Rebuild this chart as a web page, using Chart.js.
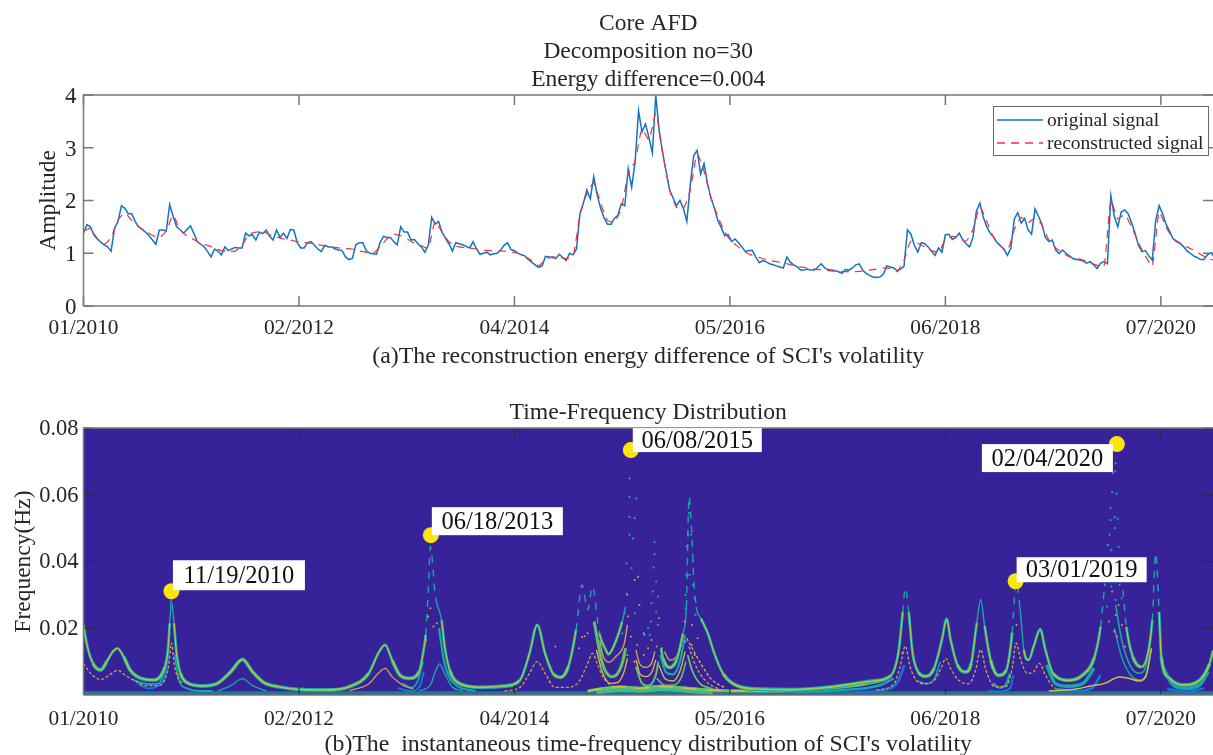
<!DOCTYPE html>
<html><head><meta charset="utf-8">
<script src="https://cdn.jsdelivr.net/npm/chart.js@4/dist/chart.umd.min.js"></script>
<style>
html,body{margin:0;padding:0;background:#fff;width:1213px;height:755px;overflow:hidden}
canvas{position:absolute;left:0;display:block;filter:blur(.35px)}
#a{top:0}#b{top:385px}
</style></head><body>
<canvas id="a" width="1213" height="375"></canvas>
<canvas id="b" width="1213" height="370"></canvas>
<script>
const xTickLabels=['01/2010','02/2012','04/2014','05/2016','06/2018','07/2020'];
const xTickValues=[0,500,1000,1500,2000,2500];
const ampTicks=[0,1,2,3,4];
const freqTicks=[0.02,0.04,0.06,0.08];
const sampleStep=8;
const originalSignal=[1.38,1.54,1.5,1.35,1.27,1.21,1.16,1.12,1.04,1.47,1.6,1.9,1.85,1.75,1.75,1.6,1.5,1.45,1.4,1.33,1.25,1.17,1.44,1.44,1.42,1.92,1.7,1.5,1.45,1.38,1.45,1.52,1.38,1.22,1.17,1.12,1.03,.93,1.08,1.04,.97,1.12,1.05,1.08,1.11,1.1,1.1,1.38,1.33,1.35,1.25,1.4,1.37,1.44,1.32,1.25,1.44,1.3,1.38,1.28,1.45,1.44,1.2,1.1,1.1,1.2,1.22,1.15,1.08,1.03,1.15,1.12,1.12,1.08,1.06,1.05,.93,.88,
.9,1.16,1.2,1.2,1.05,1,.99,.98,1.2,1.32,1.3,1.3,1.22,1.16,1.5,1.4,1.4,1.25,1.26,1.18,1.12,1.02,1.15,1.68,1.55,1.6,1.4,1.28,1.18,1.04,1.2,1.18,1.16,1.13,1.1,1.22,1.08,.98,1,1.02,.97,.99,1,1.06,1.15,1.2,1.07,1.05,1,.97,.95,.88,.83,.78,.73,.76,.94,.93,.92,.9,.98,.92,.86,
1,.97,1.08,1.75,1.95,2.2,2.03,2.45,2.1,1.85,1.67,1.55,1.55,1.66,1.72,1.94,1.9,2.6,2.25,2.73,3.7,3.3,3.45,3.2,2.9,4,3.3,2.9,2.55,2.2,2.05,1.9,2,1.85,1.6,2.3,2.85,2.95,2.5,2.7,2.32,2.05,1.85,1.62,1.48,1.33,1.35,1.22,1.27,1.2,1.12,1.03,1.05,1.05,.93,.82,
.86,.84,.8,.78,.76,.74,.72,.93,.83,.78,.74,.68,.68,.7,.68,.68,.74,.8,.72,.69,.68,.67,.65,.62,.69,.68,.72,.78,.8,.68,.62,.58,.55,.54,.55,.6,.76,.74,.72,.67,.7,.75,1.44,1.36,1.15,1.02,1.2,1.18,1.12,1.03,.96,1.1,1.02,1.35,1.36,1.26,1.3,1.38,1.26,1.18,1.12,1.3,1.8,1.95,1.68,1.5,1.38,
1.3,1.2,1.14,1.07,.96,1.1,1.65,1.77,1.57,1.66,1.44,1.36,1.84,1.7,1.55,1.3,1.22,1.25,1.06,.99,1.06,1,.95,.9,.88,.87,.85,.81,.84,.78,.71,.81,.84,.8,2.09,1.7,1.5,1.78,1.82,1.75,1.58,1.38,1.15,1.03,1.05,.95,.87,1.62,1.9,1.75,1.55,1.42,1.28,1.22,1.19,1.13,1.05,1,.95,.92,.88,.88,.97,1.01,.93];
const reconStep=16;
const reconstructedSignal=[1.42,1.47,1.28,1.17,1.3,1.63,1.76,1.62,1.5,1.42,1.34,1.3,1.42,1.72,1.44,1.33,1.26,1.18,1.15,1.1,1.05,1.03,1.04,1.15,1.36,1.4,1.41,1.35,1.31,1.27,1.25,1.22,1.2,1.19,1.16,1.14,1.12,1.1,1.09,1.08,
1.04,1.02,1,1.12,1.27,1.36,1.33,1.27,1.19,1.14,1.1,1.6,1.4,1.22,1.14,1.11,1.1,1.08,1.06,1.05,1.04,1.04,1.03,1,.94,.86,.76,.88,.93,.93,.9,
.95,1.72,2.12,2.33,1.95,1.62,1.6,1.85,2.5,2.75,3.35,3.15,3.65,2.9,2.2,1.87,1.85,2.2,2.88,2.55,2.05,1.7,1.4,1.22,1.12,1.02,.96,.92,
.88,.85,.83,.8,.77,.74,.72,.7,.69,.67,.66,.65,.65,.65,.66,.68,.7,.72,.71,.65,.87,1.23,1.19,1.12,1.05,1.02,1.25,1.32,1.28,1.23,1.45,1.88,1.6,
1.3,1.14,1.05,1.45,1.68,1.58,1.67,1.53,1.25,1.1,1.01,.93,.9,.87,.82,.77,.75,2,1.65,1.73,1.5,1.2,.95,.76,1.78,1.5,1.28,1.2,1.12,1.06,.98,.9,.87];

const ridgeMain=[[0,.021],[9,.0145],[22,.0095],[40,.0075],[54,.01],[68,.013],[79,.014],[93,.0115],[108,.0075],[125,.0055],[145,.0046],[165,.0045],[178,.0055],[189,.0085],[196,.0135],[200,.0215],[203,.0275],[204,.0315],[206,.0275],[210,.0215],[216,.0125],[225,.0065],[239,.0038],[275,.0027],[311,.0035],[342,.007],[369,.0107],[392,.007],[419,.0037],[455,.0024],[509,.0016],[563,.0015],[617,.0025],[662,.0065],[684,.0125],[700,.015],[716,.0105],[734,.006],[756,.005],[779,.007],[788,.0125],[794,.018],[800,.0313],[805,.0445],[811,.038],[815,.031],[820,.0275],[831,.0224],[838,.0146],[850,.0074],[873,.0034],[923,.0023],[977,.0027],[1013,.0045],[1035,.0125],[1053,.021],[1071,.0125],[1089,.0065],[1107,.0053],[1125,.0085],[1143,.0195],[1157,.033],[1170,.0255],[1181,.0325],[1197,.0185],[1212,.0135],[1218,.0122],[1230,.0145],[1250,.022],[1258,.0265],[1264,null],[1340,.014],[1345,.0109],[1360,.0082],[1376,.0104],[1391,.0184],[1399,.0264],[1405,.0595],[1411,.05],[1416,.035],[1422,.0264],[1433,.0229],[1449,.0184],[1464,.0124],[1484,.0064],[1507,.0034],[1561,.0018],[1651,.0016],[1742,.0025],[1833,.0042],[1874,.0059],[1892,.0136],[1901,.0248],[1907,.032],[1915,.0248],[1924,.0125],[1937,.0069],[1955,.0056],[1974,.008],[1992,.0166],[2003,.0228],[2012,.0166],[2028,.009],[2046,.0069],[2060,.0095],[2073,.0217],[2082,.0287],[2091,.0207],[2105,.0105],[2123,.0059],[2141,.0074],[2155,.0187],[2164,.034],[2173,.0263],[2182,.0136],[2193,.0105],[2205,.0146],[2220,.0197],[2232,.0136],[2250,.0064],[2288,.0044],[2319,.006],[2346,.0114],[2360,.0204],[2370,.0334],[2390,null],[2412,.0314],[2420,.0204],[2435,.0114],[2455,.0084],[2470,.0124],[2480,.0224],[2488,.0424],[2496,.0249],[2501,.0114],[2520,.005],[2551,.003],[2590,.0044],[2613,.0094],[2621,.0134]];
const ridgeOrange1=[[0,.0095],[12,.0072],[28,.0052],[40,.0046],[58,.0058],[79,.0074],[98,.0058],[117,.0044],[145,.0028],[175,.0028],[190,.005],[198,.009],[204,.0156],[211,.009],[218,.0055],[230,.0034]];
const ridgeOrange2=[[617,.0013],[662,.0034],[684,.0065],[700,.008],[716,.0055],[742,.0029],[765,.0018]];
const ridgeOrange3=[[977,.0012],[1013,.0023],[1035,.0065],[1053,.01],[1071,.0065],[1094,.0023],[1125,.0023],[1150,.004],[1170,.0095],[1181,.0125],[1192,.0095],[1205,.0055],[1225,.0028],[1245,.0022]];
const ridgeOrange4=[[1840,.0015],[1880,.0032],[1895,.0085],[1907,.0147],[1918,.0085],[1932,.0045],[1951,.0034],[1975,.0045],[1990,.008],[2001,.011],[2012,.008],[2030,.0045],[2055,.0034],[2070,.0075],[2082,.0136],[2094,.0075],[2114,.0025],[2140,.0025],[2155,.008],[2164,.0156],[2175,.0105],[2190,.0065],[2204,.0068],[2218,.0095],[2232,.006],[2250,.0025],[2270,.0014]];
const ridgeOrange5=[[2240,.0012],[2304,.0018],[2340,.0028],[2368,.0034],[2404,.0054],[2425,.005],[2450,.0042],[2465,.0055],[2478,.014]];
const nestOrange1=[[1198,.0165],[1205,.012],[1220,.0098],[1235,.0115],[1255,.0155],[1262,.021]];
const nestOrange2=[[1282,.0135],[1290,.0095],[1303,.0083],[1318,.0095],[1326,.013]];
const nestOrange3=[[1348,.013],[1360,.0105],[1378,.012],[1390,.018]];
const nestOrange4=[[1405,.0145],[1415,.0105],[1430,.0065],[1450,.0035],[1480,.0015]];
const nestYellow1=[[1190,.0135],[1205,.0065],[1222,.0035],[1240,.0038],[1255,.0072],[1262,.011]];
const nestYellow2=[[1282,.0105],[1292,.0062],[1305,.0055],[1320,.0072],[1328,.0105]];
const nestYellow3=[[1335,.009],[1350,.0048],[1368,.0042],[1385,.0075],[1396,.013]];
const nestYellow4=[[1400,.017],[1432,.0095],[1455,.005],[1490,.002]];
const nestGreen1=[[1185,.022],[1200,.0115],[1210,.0075],[1225,.0055],[1238,.0062],[1250,.0095],[1258,.014]];
const nestGreen2=[[1282,.0085],[1296,.0035],[1310,.0028],[1328,.006],[1334,.01]];
const nestGreen3=[[1338,.012],[1352,.0068],[1368,.0062],[1385,.0105],[1396,.018]];
const nestGreen4=[[1330,.005],[1350,.0029],[1370,.003],[1388,.0055],[1398,.01]];
const nestGreen5=[[1402,.012],[1412,.0075],[1430,.0035],[1460,.0018]];
const floorGlow=[[1190,.0012],[1245,.0018],[1290,.0016],[1340,.002],[1400,.0016],[1460,.001]];
const floorBright=[[1170,.0012],[1245,.0025],[1290,.002],[1340,.0026],[1400,.002],[1450,.0015],[1540,.0012],[1600,.0012],[1700,.0018],[1800,.003],[1860,.0045]];
const floorTeal=[[1650,.0009],[1750,.0014],[1850,.003],[1880,.005]];
const floorBlue=[[1790,.0008],[1860,.0016],[1890,.004],[1905,.009]];
const floorStrip=[[0,.0007],[2621,.0007]];
const tealLow1=[[311,.0012],[342,.0028],[369,.0049],[392,.0028],[425,.0012]];
const tealLow2=[[779,.0012],[805,.003],[815,.0065],[826,.0093],[838,.0065],[855,.0025],[880,.0012]];
const tealBranch1=[[115,.0045],[150,.0033],[175,.0035],[188,.007]];
const tealBranch2=[[212,.012],[222,.0042],[240,.002],[270,.0012],[300,.0012]];
const tealBranch3=[[740,.0035],[760,.0022],[775,.004],[788,.01]];
const tealBranch4=[[825,.02],[836,.0105],[848,.0055],[870,.0025],[910,.0012]];
const tealBranch5=[[2235,.009],[2255,.0035],[2285,.0026],[2320,.0035],[2345,.008]];
const tealBranch6=[[2395,.027],[2410,.016],[2430,.0085],[2450,.0065],[2465,.0085],[2475,.016]];
const tealBranch7=[[2392,.02],[2410,.011],[2430,.006],[2452,.0045],[2468,.007],[2478,.014]];
const tealBranch8=[[2505,.0085],[2525,.0035],[2555,.002],[2590,.003],[2610,.007]];
const tealBranch9=[[2110,.0035],[2125,.0022],[2140,.003],[2150,.0065]];
const tealBranch10=[[1937,.0042],[1955,.0034],[1975,.005],[1988,.01]];
const blueLow1=[[125,.0035],[150,.002],[175,.003],[190,.006],[197,.012]];
const blueLow2=[[730,.002],[760,.0012],[780,.0025],[790,.007]];
const blueLow3=[[2260,.0018],[2300,.0012],[2340,.002],[2360,.006]];
const blueLow4=[[2515,.0018],[2560,.001],[2600,.002]];
const blueLow5=[[2100,.0012],[2125,.001],[2150,.002],[2158,.006]];
const dotsTeal=[[1267,.0649],[1267,.0594],[1283,.0589],[1267,.0534],[1279,.053],[1267,.048],[1275,.0469],[1260,.0394],[1272,.038],[1262,.03],[1256,.0245],[1280,.0245],[1250,.0184],[1325,.0458],[1325,.0422],[1323,.0382],[1329,.034],[1321,.031],[1333,.0295],[1318,.0275],[1329,.025],[1317,.022],[1333,.021],[1310,.02],[1302,.018],[1314,.018],[1405,.0545],[1403,.048],[1410,.048],[1399,.0445],[1414,.04],[1399,.036],[1406,.036],[1414,.033],[1397,.03],[1418,.029],[1397,.026],[1420,.024],[2395,.0695],[2394,.0671],[2389,.0665],[2387,.0608],[2397,.0603],[2383,.056],[2393,.0533],[2400,.0528],[2383,.0524],[2381,.048],[2393,.05],[2377,.0449],[2402,.0444],[2385,.0434],[2370,.033],[2404,.033],[2385,.0325],[2395,.0285],[2375,.0265],[2409,.029]];
const dotsOrange=[[1261,.0303],[1264,.0235],[1279,.0345],[1287,.0354],[1270,.0175],[1290,.027],[1300,.0185],[1285,.015],[1262,.012],[1278,.01],[1335,.023],[1318,.0165],[1342,.014],[1310,.014],[1330,.0145],[1300,.012],[1395,.022],[1412,.021],[1425,.017],[1397,.016],[1411,.015],[1418,.012],[1157,.0174],[1163,.0176],[1170,.0185],[1150,.014],[805,.026],[800,.0235],[812,.0205],[820,.0215],[795,.0165],[2387,.031],[2395,.024],[2402,.027],[2380,.022],[2392,.019],[2410,.021],[2398,.0175],[2417,.0145],[1095,.0145],[2165,.021],[1900,.0125]];
const eventLabels=['11/19/2010','06/18/2013','06/08/2015','03/01/2019','02/04/2020'];
const eventX=[204,806,1270,2163,2398];
const eventY=[.0311,.0479,.0734,.0341,.0752];

const SERIF='"Liberation Serif","Times New Roman",serif';
const INK='#262626';
// label box geometry relative to each marker: dx, dy, width, height
const labelBoxes=[[1.5,-31,132,30],[1,-28,131,28],[2,-22,129,24],[1,-24,130,25],[-135,0,131,28]];
const toPts=a=>a.map(p=>({x:p[0],y:p[1]}));
const stepPts=(v,s)=>v.map((y,i)=>({x:i*s,y}));

const frame={id:'frame',
 beforeDatasetsDraw(c,_,o){ if(!o.bg)return; const a=c.chartArea,x=c.ctx;x.save();x.fillStyle=o.bg;x.fillRect(a.left,a.top,a.width,a.height);x.restore();},
 afterDatasetsDraw(c,_,o){ const a=c.chartArea,x=c.ctx,L=o.len;x.save();x.strokeStyle=o.tick;x.lineWidth=o.w;x.beginPath();
  xTickValues.forEach(v=>{const p=c.scales.x.getPixelForValue(v);x.moveTo(p,a.bottom);x.lineTo(p,a.bottom-L);x.moveTo(p,a.top);x.lineTo(p,a.top+L);});
  o.yt.forEach(v=>{const p=c.scales.y.getPixelForValue(v);x.moveTo(a.left,p);x.lineTo(a.left+L,p);x.moveTo(a.right-L,p);x.lineTo(a.right,p);});
  x.stroke();
  x.strokeStyle='#777';x.lineWidth=1.5;x.beginPath();x.moveTo(a.left,a.bottom);x.lineTo(a.left,a.top);x.lineTo(a.right,a.top);x.stroke();
  x.beginPath();x.moveTo(a.left,a.bottom);x.lineTo(a.right,a.bottom);x.stroke();
  x.restore();}};

const legendBox={id:'legendBox',afterDatasetsDraw(c){const x=c.ctx;x.save();
 const L=993,T=106,W=215,H=49;
 x.fillStyle='#fff';x.fillRect(L,T,W,H);x.strokeStyle='#6a6a6a';x.lineWidth=1;x.strokeRect(L+.5,T+.5,W,H);
 x.font='19.5px '+SERIF;x.textBaseline='middle';x.textAlign='left';
 c.data.datasets.forEach((d,i)=>{const y=T+14+i*23;x.strokeStyle=d.borderColor;x.lineWidth=1.3;x.setLineDash(d.borderDash||[]);
  x.beginPath();x.moveTo(L+4,y);x.lineTo(L+50,y);x.stroke();x.setLineDash([]);x.fillStyle=INK;x.fillText(d.label,L+54,y+1);});
 x.restore();}};

const eventTags={id:'eventTags',afterDatasetsDraw(c){const m=c.getDatasetMeta(c.data.datasets.length-1),x=c.ctx;x.save();
 x.font='24.5px '+SERIF;x.textAlign='center';x.textBaseline='middle';
 eventLabels.forEach((t,i)=>{const p=m.data[i],b=labelBoxes[i];const l=p.x+b[0],u=p.y+b[1];
  x.fillStyle='#fff';x.fillRect(l,u,b[2],b[3]);x.fillStyle='#111';x.fillText(t,l+b[2]/2,u+b[3]/2+1);});
 x.restore();}};

function axes(yMin,yMax,yTicks,yFmt,yTitle,yPad,bottomH,subtitle,subPad){return{
 x:{type:'linear',min:0,max:2621,grid:{display:false},border:{display:false},
  afterBuildTicks:s=>{s.ticks=xTickValues.map(v=>({value:v}));},
  afterFit:s=>{s.height=bottomH;},
  ticks:{autoSkip:false,maxRotation:0,padding:subPad.tick,color:INK,font:{family:SERIF,size:21.4},callback:v=>xTickLabels[xTickValues.indexOf(v)]},
  title:{display:true,text:subtitle,color:INK,font:{family:SERIF,size:23.8,lineHeight:1},padding:{top:0,bottom:subPad.bottom}}},
 y:{type:'linear',min:yMin,max:yMax,grid:{display:false,tickLength:0},border:{display:false},
  afterBuildTicks:s=>{s.ticks=yTicks.map(v=>({value:v}));},
  afterFit:s=>{s.width=83.5;},
  ticks:{padding:yPad.tick,labelOffset:yPad.shift,color:INK,font:{family:SERIF,size:yPad.size},callback:yFmt},
  title:{display:true,text:yTitle,color:INK,font:{family:SERIF,size:23.5},padding:{top:yPad.title,bottom:0}}}
};}

new Chart(document.getElementById('a'),{type:'line',
 data:{datasets:[
  {label:'original signal',data:stepPts(originalSignal,sampleStep),borderColor:'#0f75c3',borderWidth:1.5,pointRadius:0,tension:0,order:2},
  {label:'reconstructed signal',data:stepPts(reconstructedSignal,reconStep),borderColor:'#f4323c',borderWidth:1.2,borderDash:[8,6],pointRadius:0,tension:.2,order:1}
 ]},
 options:{responsive:false,animation:false,devicePixelRatio:1,layout:{padding:0,autoPadding:false},
  plugins:{legend:{display:false},tooltip:{enabled:false},
   title:{display:true,fullSize:false,text:['Core AFD','Decomposition no=30','Energy difference=0.004'],color:INK,font:{family:SERIF,size:23.5,weight:'normal',lineHeight:1.19},padding:{top:10,bottom:1}},
   frame:{len:10,tick:'#777',w:1.5,yt:ampTicks}},
  scales:axes(0,4,ampTicks,v=>String(v),'Amplitude',{tick:7,title:35,size:23,shift:2},69,"(a)The reconstruction energy difference of SCI's volatility",{tick:2,bottom:6})},
 plugins:[frame,legendBox]});

const C={teal:'#18a7a8',green:'#5fc26a',lime:'#a9cc3f',yel:'#d8bf3e',org:'#c9a64f',blue:'#1277d6',dk:'#127f93'};
const thick=y=>y<.012?3.8:(y<.025?2.8:1.4);
const core=y=>y<.012?1.7:(y<.025?1.2:0.01);
const segW=f=>({borderWidth:ctx=>f(Math.max(ctx.p0.parsed.y,ctx.p1.parsed.y)),borderDash:ctx=>Math.max(ctx.p0.parsed.y,ctx.p1.parsed.y)>.03?[7,7]:undefined});
const line=(a,color,w,extra)=>Object.assign({data:toPts(a),borderColor:color,borderWidth:w,pointRadius:0,cubicInterpolationMode:'monotone',spanGaps:false},extra||{});
const thin=[3,2];
const layers=[
 line(floorStrip,C.dk,3),
 line(floorGlow,'#43b98a',6),
 line(floorBright,C.green,3),
 line(floorBright,C.yel,1.4,{borderDash:[14,10]}),
 line(floorTeal,C.teal,2.4),
 line(floorBlue,C.blue,2.4),
 line(blueLow1,C.blue,2),line(blueLow2,C.blue,2),line(blueLow3,C.blue,2.4),line(blueLow4,C.blue,2.4),line(blueLow5,C.blue,2),
 line(tealLow1,C.teal,1.3),line(tealLow2,C.teal,1.4),
 line(tealBranch1,C.teal,1.8),line(tealBranch2,C.teal,1.8),line(tealBranch3,C.teal,1.8),line(tealBranch4,C.teal,2.2),
 line(tealBranch5,C.teal,3.4),line(tealBranch6,C.teal,1.6),line(tealBranch7,C.teal,1.4),line(tealBranch8,C.teal,3.4),line(tealBranch9,C.teal,2.4),line(tealBranch10,C.teal,1.6),
 line(ridgeOrange1,C.org,1.3,{borderDash:thin}),line(ridgeOrange2,C.org,1.3),line(ridgeOrange3,C.org,1.3,{borderDash:thin}),line(ridgeOrange4,C.org,1.3,{borderDash:thin}),line(ridgeOrange5,C.yel,1.5),
 line(nestGreen1,C.green,3),line(nestGreen2,C.green,2),line(nestGreen3,C.teal,2.2),line(nestGreen4,C.green,1.6),line(nestGreen5,C.green,1.8),
 line(nestOrange1,C.org,1.4),line(nestOrange2,C.org,1.4),line(nestOrange3,C.org,1.4),line(nestOrange4,C.org,1.3,{borderDash:thin}),
 line(nestYellow1,C.yel,1.3),line(nestYellow2,C.yel,1.3),line(nestYellow3,C.yel,1.3),line(nestYellow4,C.yel,1.3,{borderDash:thin}),
 line(ridgeMain,C.teal,3,{segment:segW(thick)}),
 line(ridgeMain,C.lime,1.5,{segment:segW(core)}),
 {type:'scatter',data:toPts(dotsOrange),pointRadius:1,pointBackgroundColor:C.org,pointBorderWidth:0,showLine:false},
 {type:'scatter',data:toPts(dotsTeal),pointRadius:1.1,pointBackgroundColor:C.teal,pointBorderWidth:0,showLine:false},
 {type:'scatter',data:eventX.map((x,i)=>({x,y:eventY[i]})),pointRadius:8,pointBackgroundColor:'#fde50a',pointBorderWidth:0,showLine:false,clip:false}
];
layers.forEach((d,i)=>{d.order=layers.length-i;});

new Chart(document.getElementById('b'),{type:'line',
 data:{datasets:layers},
 options:{responsive:false,animation:false,devicePixelRatio:1,layout:{padding:0,autoPadding:false},
  plugins:{legend:{display:false},tooltip:{enabled:false},
   title:{display:true,fullSize:false,text:'Time-Frequency Distribution',color:INK,font:{family:SERIF,size:23.7,weight:'normal',lineHeight:1.1},padding:{top:15,bottom:2}},
   frame:{bg:'#38229a',len:10,tick:'#2a2a2a',w:1,yt:freqTicks}},
  scales:axes(0,.08,freqTicks,v=>v.toFixed(2),'Frequency(Hz)',{tick:5,title:10,size:22.5,shift:1},60,"(b)The  instantaneous time-frequency distribution of SCI's volatility",{tick:4,bottom:-2})},
 plugins:[frame,eventTags]});
</script>
</body></html>
